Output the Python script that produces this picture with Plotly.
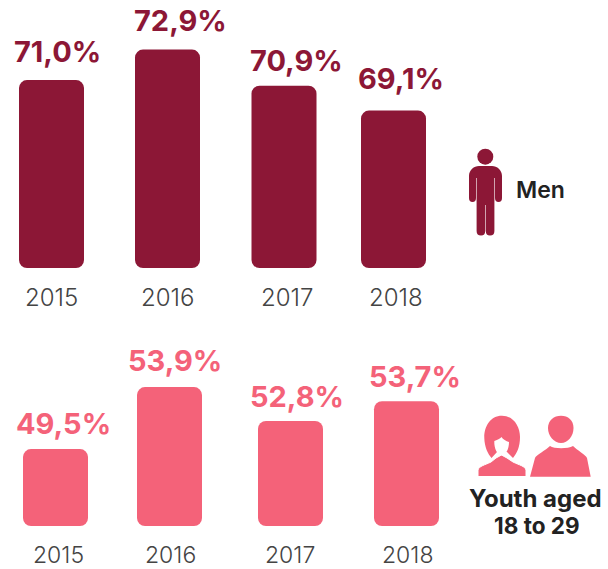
import plotly.graph_objects as go

W, H = 608, 569
years = ["2015", "2016", "2017", "2018"]
men_labels = ["71,0%", "72,9%", "70,9%", "69,1%"]
youth_labels = ["49,5%", "53,9%", "52,8%", "53,7%"]
# bar levels as read from the drawn heights (the infographic is not strictly to scale)
men_values = [71.0, 72.9, 70.65, 69.1]
youth_values = [49.5, 53.9, 51.5, 52.9]

men_x = [51.5, 167.5, 284, 393.5]
youth_x = [55.5, 169.5, 290.5, 406.5]
men_label_x = [57, 180, 296, 401]
men_label_y = [51, 20, 60, 78]
youth_label_x = [63, 175, 297, 415]
youth_label_y = [423, 360, 396, 376]
men_year_x = [51, 167, 287, 396]
youth_year_x = [58, 170, 290, 407]

MEN = "#8C1736"
YOUTH = "#F46279"
FONT = "Inter, 'Open Sans', sans-serif"

men_base, men_top = 59.29, 74.12
youth_base, youth_top = 44.04, 56.53

fig = go.Figure()
fig.add_bar(x=men_x, y=[v - men_base for v in men_values], base=men_base, width=65,
            marker=dict(color=MEN, line_width=0), xaxis="x", yaxis="y", hoverinfo="skip")
fig.add_bar(x=youth_x, y=[v - youth_base for v in youth_values], base=youth_base, width=65,
            marker=dict(color=YOUTH, line_width=0), xaxis="x", yaxis="y2", hoverinfo="skip")
fig.add_scatter(x=[0], y=[0], mode="none", xaxis="x", yaxis="y3", hoverinfo="skip")


def overlay_text(x, y, text, size, color, weight=400):
    fig.add_annotation(x=x, y=y, xref="x", yref="y3", text=text, showarrow=False,
                       xanchor="center", yanchor="middle",
                       font=dict(family=FONT, size=size, color=color, weight=weight))


for x, y, t in zip(men_label_x, men_label_y, men_labels):
    overlay_text(x, y, t, 29, MEN, 700)
for x, y, t in zip(youth_label_x, youth_label_y, youth_labels):
    overlay_text(x, y, t, 29, YOUTH, 700)
for x, t in zip(men_year_x, years):
    overlay_text(x, 297, t, 24, "#444444", 300)
for x, t in zip(youth_year_x, years):
    overlay_text(x, 555, t, 23, "#444444", 300)
overlay_text(540.5, 190, "Men", 23, "#222222", 600)
overlay_text(535, 498, "Youth aged", 24, "#222222", 700)
overlay_text(537, 525, "18 to 29", 22.5, "#222222", 700)

man_path = ("M469,176 C469,170 474,166 479,166 L492,166 C497,166 502,170 502,176 L502,198 "
            "Q502,202 498.5,202 Q495,202 495,198 L495,178 L494.4,178 L494.4,231 Q494.4,235.5 490,235.5 "
            "Q485.8,235.5 485.8,231 L485.8,205 L485.2,205 L485.2,231 Q485.2,235.5 481,235.5 Q476.6,235.5 476.6,231 "
            "L476.6,178 L476,178 L476,198 Q476,202 472.5,202 Q469,202 469,198 Z")
hair_path = ("M502,415.7 C490,415.7 484,427 484.3,438 C484.5,447 488,454 491.5,458 L497,452 L507,452 L513,458 "
             "C517,453 520,447 520,437 C520,426 513,415.7 502,415.7 Z")
woman_body = ("M478,476.5 L478,470 C479,466 485,465 491,462 L496,458 L501.5,455 L507,458 L513,462 "
              "C519,465 525,466 526,470 L526,476.5 Z")
woman_face = ("M494.3,441 C498,440 500.5,438 501.5,437 C503,439.5 506,441 509,442 C509,449 506,455 501.5,455.5 "
              "C497.5,455 494,449 494.3,441 Z")
youth_head = ("M561,415.7 C568,415.7 573.5,420 573.5,428 C573.5,436 568,443 561,443 "
              "C554,443 548,436 548,428 C548,420 554,415.7 561,415.7 Z")
youth_shoulders = ("M530,476.7 L535,458 C536,455 546,450 550,446 C554,449 568,449 573,446 "
                   "C577,450 586,455 587,458 L590.7,476.7 Z")

shape_style = dict(xref="x", yref="y3", layer="above", line_width=0)
fig.add_shape(type="path", path=man_path, fillcolor=MEN, **shape_style)
fig.add_shape(type="circle", x0=477.3, x1=493.3, y0=148.7, y1=164.7, fillcolor=MEN, **shape_style)
fig.add_shape(type="path", path=hair_path, fillcolor=YOUTH, **shape_style)
fig.add_shape(type="path", path=woman_body, fillcolor=YOUTH, xref="x", yref="y3", layer="above",
              line=dict(color="white", width=1))
fig.add_shape(type="path", path=woman_face, fillcolor="white", **shape_style)
fig.add_shape(type="path", path=youth_head, fillcolor=YOUTH, **shape_style)
fig.add_shape(type="path", path=youth_shoulders, fillcolor=YOUTH, **shape_style)

hidden = dict(visible=False, showgrid=False, zeroline=False, fixedrange=True)
fig.update_layout(
    width=W, height=H, margin=dict(l=0, r=0, t=0, b=0),
    paper_bgcolor="white", plot_bgcolor="rgba(0,0,0,0)", showlegend=False, barmode="overlay",
    barcornerradius=8,
    xaxis=dict(range=[0, W], domain=[0, 1], **hidden),
    yaxis=dict(range=[men_base, men_top], domain=[(H - 268) / H, (H - 30) / H], **hidden),
    yaxis2=dict(range=[youth_base, youth_top], domain=[(H - 526) / H, (H - 350) / H], **hidden),
    yaxis3=dict(range=[H, 0], domain=[0, 1], **hidden),
)
fig.write_html("out.html", post_script="document.body.style.margin='0';",
               config=dict(displayModeBar=False))
